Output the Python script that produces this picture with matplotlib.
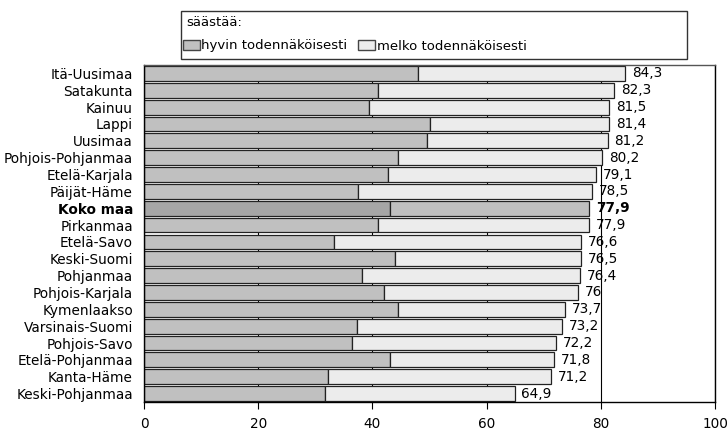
import matplotlib
matplotlib.use('Agg')
import matplotlib.pyplot as plt
from matplotlib.patches import Patch, Rectangle
import numpy as np

plt.rcParams['font.family'] = ['DejaVu Sans']

# alueet ylhäältä alas
regions = ['Itä-Uusimaa', 'Satakunta', 'Kainuu', 'Lappi', 'Uusimaa',
           'Pohjois-Pohjanmaa', 'Etelä-Karjala', 'Päijät-Häme', 'Koko maa',
           'Pirkanmaa', 'Etelä-Savo', 'Keski-Suomi', 'Pohjanmaa',
           'Pohjois-Karjala', 'Kymenlaakso', 'Varsinais-Suomi', 'Pohjois-Savo',
           'Etelä-Pohjanmaa', 'Kanta-Häme', 'Keski-Pohjanmaa']
hyvin = [47.9, 41.0, 39.4, 50.1, 49.6, 44.5, 42.7, 37.5, 43.0, 41.0,
         33.3, 44.0, 38.2, 42.1, 44.5, 37.3, 36.5, 43.0, 32.3, 31.7]
total = [84.3, 82.3, 81.5, 81.4, 81.2, 80.2, 79.1, 78.5, 77.9, 77.9,
         76.6, 76.5, 76.4, 76.0, 73.7, 73.2, 72.2, 71.8, 71.2, 64.9]
total_labels = ['84,3', '82,3', '81,5', '81,4', '81,2', '80,2', '79,1', '78,5',
                '77,9', '77,9', '76,6', '76,5', '76,4', '76', '73,7', '73,2',
                '72,2', '71,8', '71,2', '64,9']

hyvin = np.array(hyvin)
melko = np.array(total) - hyvin
y = np.arange(len(regions))
koko = regions.index('Koko maa')

c1 = ['#a6a6a6' if i == koko else '#c0c0c0' for i in range(len(regions))]
c2 = ['#c0c0c0' if i == koko else '#ececec' for i in range(len(regions))]

fs = 9.8

fig = plt.figure(figsize=(7.28, 4.32), dpi=100)
ax = fig.add_axes([144/728, 1 - 402/432, (715-144)/728, (402-65)/432])

ax.barh(y, hyvin, height=0.88, color=c1, edgecolor='#222222', linewidth=0.9, zorder=2)
ax.barh(y, melko, left=hyvin, height=0.88, color=c2, edgecolor='#222222', linewidth=0.9, zorder=2)

for i in range(len(regions)):
    ax.text(total[i] + 1.2, y[i], total_labels[i], va='center', ha='left',
            fontsize=fs, fontweight='bold' if i == koko else 'normal', zorder=3)

ax.set_xlim(0, 100)
ax.set_ylim(len(regions) - 0.5, -0.5)
ax.set_xticks([0, 20, 40, 60, 80, 100])
ax.set_yticks(y)
ax.set_yticklabels(regions, fontsize=fs)
for i, lab in enumerate(ax.get_yticklabels()):
    if i == koko:
        lab.set_fontweight('bold')
ax.tick_params(axis='y', length=0, pad=8)
ax.tick_params(axis='x', length=5, labelsize=fs, color='black', pad=6)
ax.grid(axis='x', color='black', linewidth=0.8, zorder=0)
ax.set_axisbelow(True)
for s in ax.spines.values():
    s.set_color('black')
    s.set_linewidth(1)
ax.spines['top'].set_color('#555555')

# legendan laatikko
box = Rectangle((181/728, 1 - 59/432), (687-181)/728, 48/432, transform=fig.transFigure,
                facecolor='white', edgecolor='#333333', linewidth=1)
fig.patches.append(box)
fig.text(186/728, 1 - 22/432, 'säästää:', fontsize=9.5, va='center', ha='left')
handles = [Patch(facecolor='#c0c0c0', edgecolor='#444444', label='hyvin todennäköisesti'),
           Patch(facecolor='#ececec', edgecolor='#444444', label='melko todennäköisesti')]
leg = fig.legend(handles=handles, ncol=2, loc='center left',
                 bbox_to_anchor=(183/728, 1 - 46/432), fontsize=9.5, frameon=False,
                 handlelength=1.3, handleheight=0.8, handletextpad=0.1,
                 columnspacing=0.8, borderpad=0, borderaxespad=0)

fig.savefig('out.png', dpi=100)
